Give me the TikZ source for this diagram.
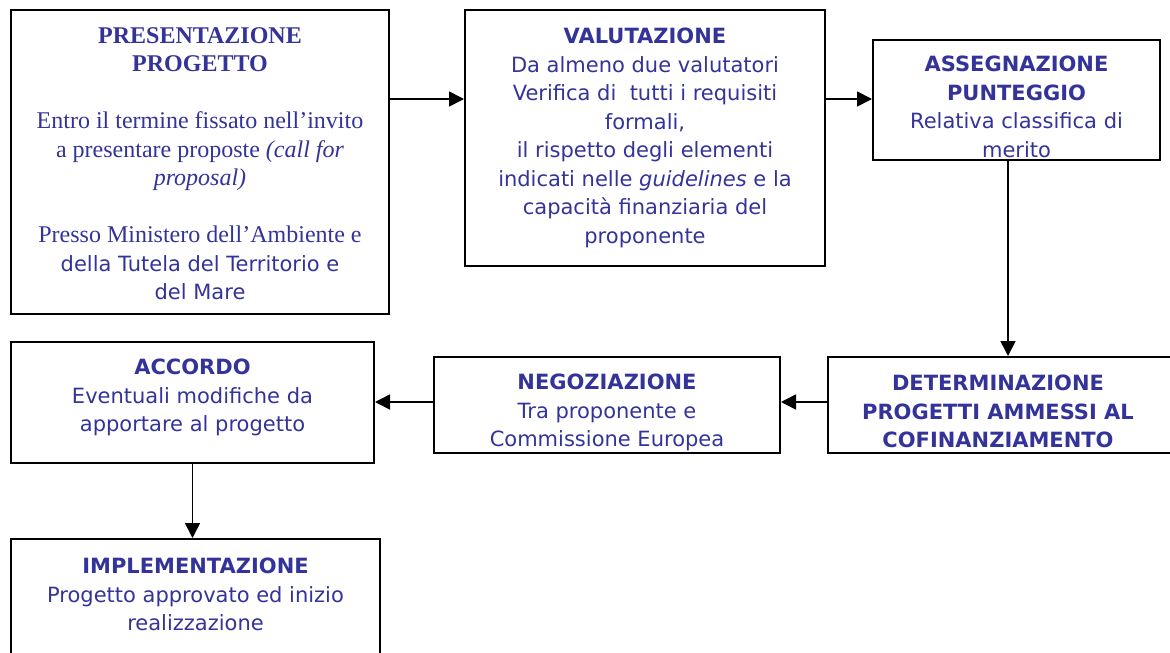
\documentclass[tikz,border=0pt]{standalone}
\usepackage{fontspec}
\setmainfont{DejaVu Sans}
\newfontfamily\tms{Liberation Serif}
\usetikzlibrary{arrows.meta,positioning}
\definecolor{txtblue}{RGB}{51,51,153}
\newcommand{\rmline}{\fontsize{24}{28.5}\tms}

\begin{document}
\begin{tikzpicture}[
  x=1pt, y=-1pt,
  >={Triangle[length=15pt,width=15pt]},
  box/.style={draw,rectangle,anchor=north west,inner sep=0,line width=2pt},
  txt/.style={align=center,inner sep=0,text=txtblue,font=\fontsize{21}{28.5}\selectfont},
  link/.style={->,line width=1.7pt}
  ]

  \useasboundingbox (0,0) rectangle (1170,653);

  \node [box,minimum width=378,minimum height=304] (pres) at (10,9) {};
  \node [box,minimum width=360,minimum height=256] (val) at (464,9) {};
  \node [box,minimum width=287,minimum height=120] (ass) at (872,39) {};
  \node [box,minimum width=360,minimum height=96] (det) at (827,356) {};
  \node [box,minimum width=346,minimum height=96] (neg) at (433,356) {};
  \node [box,minimum width=363,minimum height=121] (acc) at (10,341) {};
  \node [box,minimum width=369,minimum height=150] (imp) at (10,538) {};

  \node [txt,below=18pt of pres.north] (pres-txt) {%
    {\rmline\bfseries PRESENTAZIONE}\\{\rmline\bfseries PROGETTO}\\[28.5pt]
    {\rmline Entro il termine fissato nell’invito}\\
    {\rmline a presentare proposte \itshape(call for}\\
    {\rmline\itshape proposal)}\\[28.5pt]
    {\rmline Presso Ministero dell’Ambiente e}\\
    della Tutela del Territorio e\\del Mare};
  \node [txt,below=19pt of val.north] (val-txt) {%
    \textbf{VALUTAZIONE}\\Da almeno due valutatori\\
    Verifica di \ tutti i requisiti\\formali,\\
    il rispetto degli elementi\\indicati nelle \textit{guidelines} e la\\
    capacità finanziaria del\\proponente};
  \node [txt,below=17pt of ass.north] (ass-txt) {%
    \textbf{ASSEGNAZIONE}\\\textbf{PUNTEGGIO}\\Relativa classifica di\\merito};
  \node [txt,anchor=north] (det-txt) at ([xshift=171pt,yshift=-19pt]det.north west) {%
    \textbf{DETERMINAZIONE}\\\textbf{PROGETTI AMMESSI AL}\\\textbf{COFINANZIAMENTO}};
  \node [txt,below=18pt of neg.north] (neg-txt) {%
    \textbf{NEGOZIAZIONE}\\Tra proponente e\\Commissione Europea};
  \node [txt,below=18pt of acc.north] (acc-txt) {%
    \textbf{ACCORDO}\\Eventuali modifiche da\\apportare al progetto};
  \node [txt,below=20pt of imp.north] (imp-txt) {%
    \textbf{IMPLEMENTAZIONE}\\Progetto approvato ed inizio\\realizzazione};

  \coordinate (row1) at (0,99);
  \coordinate (row2) at (0,402);
  \coordinate (col1) at (1008,0);

  \draw [link] (pres.east |- row1) -- (val.west |- row1);
  \draw [link] (val.east |- row1) -- (ass.west |- row1);
  \draw [link] (ass.south -| col1) -- (det.north -| col1);
  \draw [link] (det.west |- row2) -- (neg.east |- row2);
  \draw [link] (neg.west |- row2) -- (acc.east |- row2);
  \draw [link] (acc.south) -- (acc.south |- imp.north);

\end{tikzpicture}
\end{document}
